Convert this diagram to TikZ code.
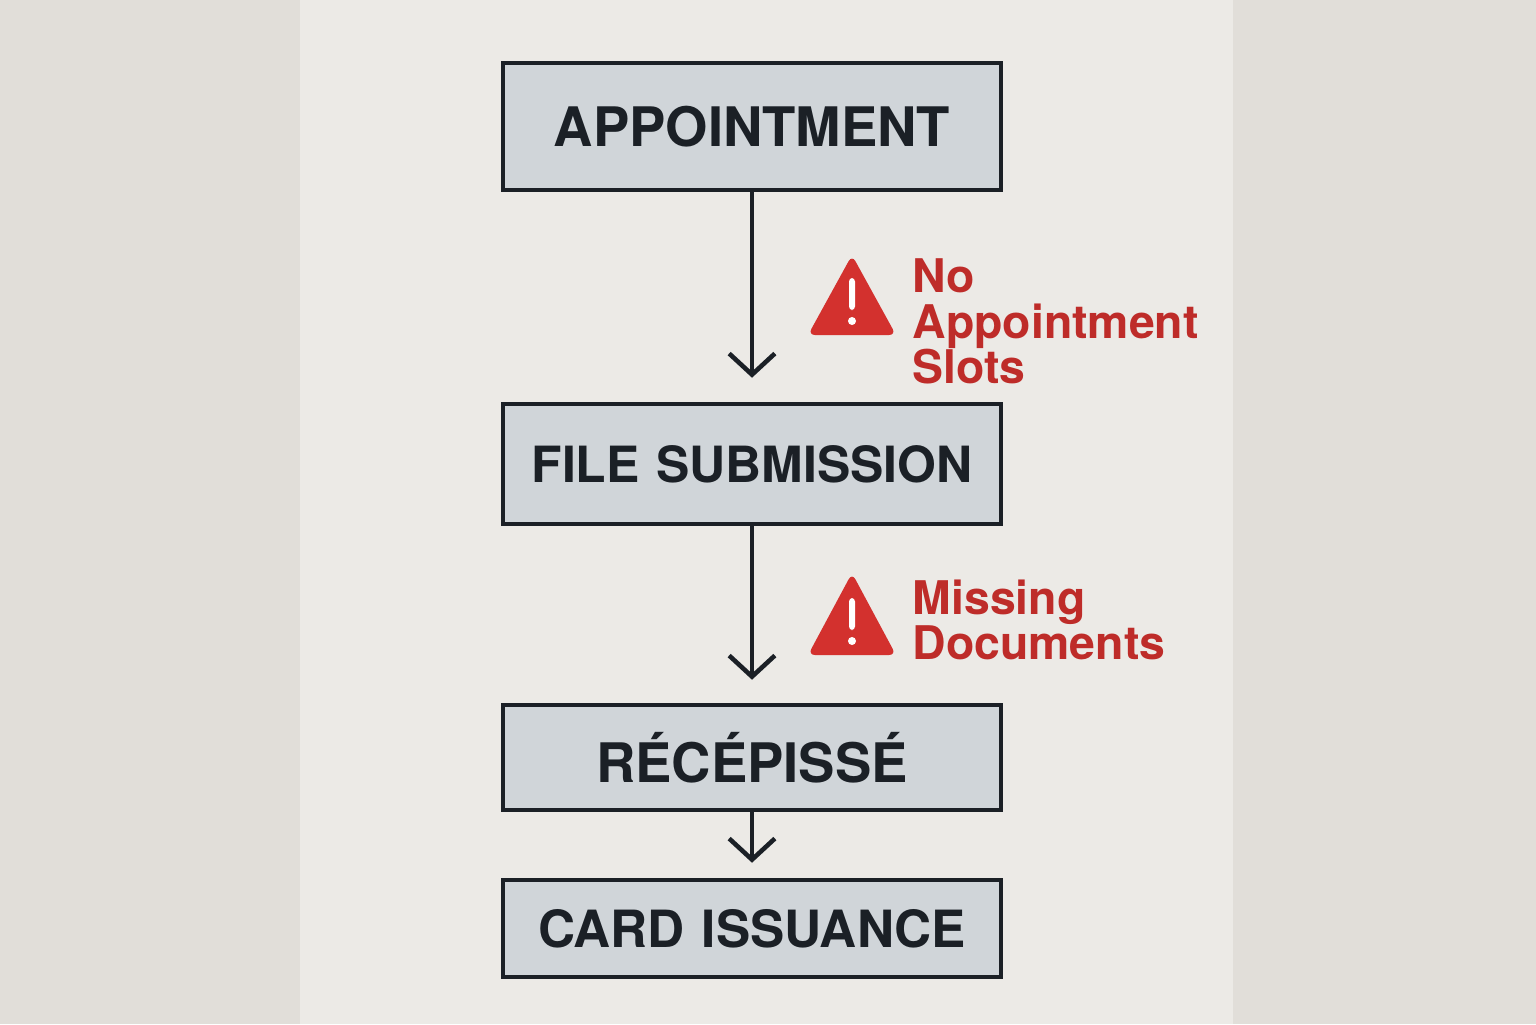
\documentclass[tikz,border=0pt]{standalone}
\usepackage{fontspec}
\setmainfont{TeX Gyre Heros}
\usetikzlibrary{arrows.meta}
\definecolor{wallgray}{HTML}{E1DED9}
\definecolor{papergray}{HTML}{ECEAE6}
\definecolor{boxfill}{HTML}{D0D5D9}
\definecolor{boxline}{HTML}{1B2026}
\definecolor{warnred}{HTML}{D3312E}
\begin{document}
\begin{tikzpicture}[x=1cm,y=-1cm,
    stepbox/.style={draw=boxline, line width=1.3pt, fill=boxfill, text width=4.9cm, align=center, inner xsep=0pt, minimum width=4.98cm, font=\bfseries\fontsize{15.5}{18}\selectfont, text=boxline},
    flow/.style={->, line width=1.3pt, draw=boxline, >={Straight Barb[length=6pt,width=13pt]}},
    warntext/.style={anchor=north west, align=left, text=warnred!90!black, font=\bfseries\fontsize{13.2}{13}\selectfont, inner sep=0pt}]
        \useasboundingbox (0,0) rectangle (15.36,10.24);
        \fill[wallgray] (0,0) rectangle (15.36,10.24);
        \fill[papergray] (3.0,0) rectangle (12.33,10.24);
        \node[stepbox, minimum height=1.27cm] (appt) at (7.52,1.265) {APPOINTMENT};
        \node[stepbox, minimum height=1.2cm, font=\bfseries\fontsize{14.2}{17}\selectfont] (file) at (7.52,4.64) {FILE SUBMISSION};
        \node[stepbox, minimum height=1.05cm] (rece) at (7.52,7.575) {RÉCÉPISSÉ};
        \node[stepbox, minimum height=0.97cm, font=\bfseries\fontsize{14.6}{17}\selectfont] (card) at (7.52,9.285) {CARD ISSUANCE};
        \draw[flow, shorten >=0.24cm] (appt) -- (file);
        \draw[flow, shorten >=0.23cm] (file) -- (rece);
        \draw[flow, shorten >=0.15cm] (rece) -- (card);
        % warnings
        \fill[warnred, rounded corners=2pt] (8.08,3.35) -- (8.52,2.55) -- (8.96,3.35) -- cycle;
        \fill[white, rounded corners=1pt] (8.49,2.78) rectangle (8.55,3.1);
        \fill[white] (8.52,3.21) circle (0.04);
        \node[warntext] (slots) at (9.12,2.58) {No\\Appointment\\Slots};
        \fill[warnred, rounded corners=2pt] (8.08,6.55) -- (8.52,5.73) -- (8.96,6.55) -- cycle;
        \fill[white, rounded corners=1pt] (8.49,5.98) rectangle (8.55,6.3);
        \fill[white] (8.52,6.41) circle (0.04);
        \node[warntext] (docs) at (9.12,5.79) {Missing\\Documents};
\end{tikzpicture}
\end{document}
